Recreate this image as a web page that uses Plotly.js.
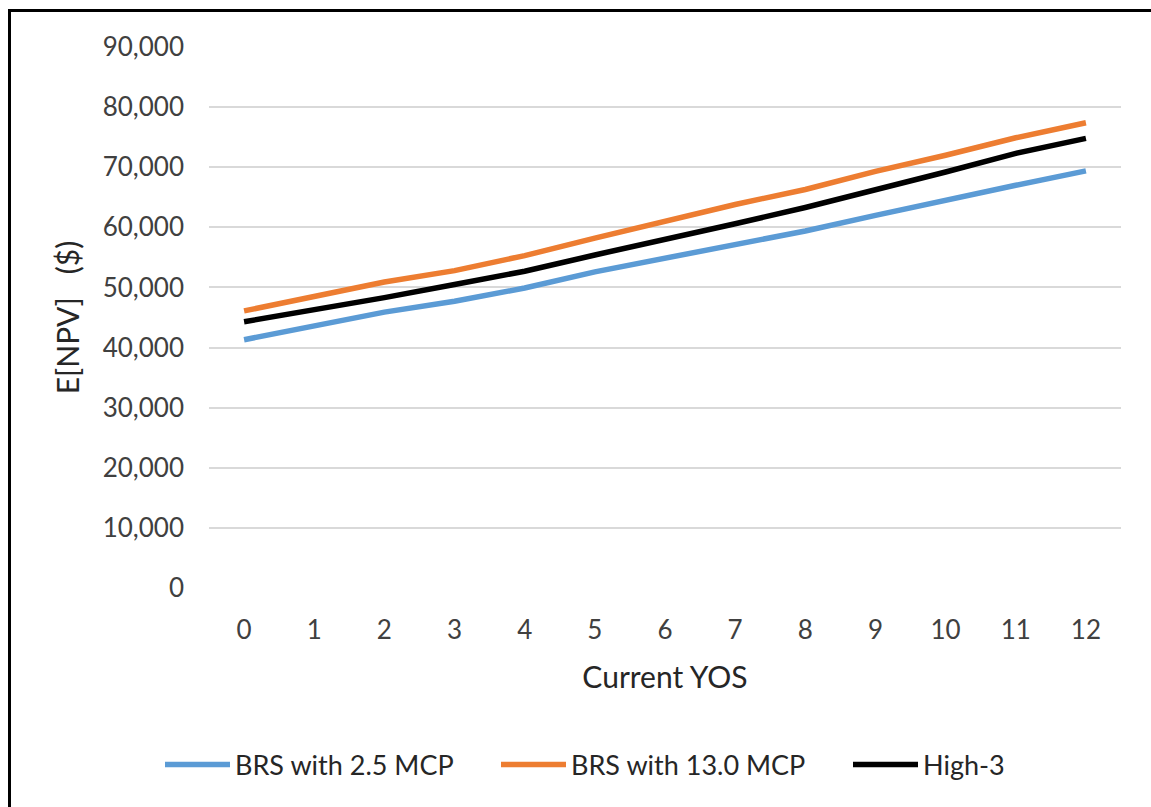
<!DOCTYPE html>
<html>
<head>
<meta charset="utf-8">
<script src="https://cdn.plot.ly/plotly-3.0.1.min.js"></script>
<style>
html,body{margin:0;padding:0;background:#fff;}
#frame{position:absolute;left:8px;top:9px;width:1160px;height:820px;border:3px solid #000;box-sizing:border-box;}
#chart{position:absolute;left:0;top:0;width:1151px;height:807px;}
</style>
</head>
<body>
<div id="chart"></div>
<div id="frame"></div>
<script>
const yos = [0,1,2,3,4,5,6,7,8,9,10,11,12];
const tickLabels = ["0","1","2","3","4","5","6","7","8","9","10","11","12"];
const brs25 = [41300,43600,45900,47700,49900,52600,54900,57200,59400,62000,64600,67000,69400];
const brs130 = [46100,48400,50900,52800,55300,58200,61000,63800,66300,69300,72000,74900,77400];
const high3 = [44300,46200,48300,50500,52700,55400,57900,60600,63300,66200,69200,72300,74800];
const seriesNames = ["BRS with 2.5 MCP","BRS with 13.0 MCP","High-3"];
const yTicks = [0,10000,20000,30000,40000,50000,60000,70000,80000,90000];
const yTickText = ["0","10,000","20,000","30,000","40,000","50,000","60,000","70,000","80,000","90,000"];

const font = "Lato, 'Open Sans', 'DejaVu Sans', sans-serif";
function tr(y, name, color, lg){
  return {x: yos, y: y, name: name, type: "scatter", mode: "lines", legend: lg,
    line: {color: color, width: 5.5, shape: "linear"}, hoverinfo: "skip"};
}
const data = [
  tr(brs25, seriesNames[0], "#5B9BD5", "legend"),
  tr(brs130, seriesNames[1], "#ED7D31", "legend2"),
  tr(high3, seriesNames[2], "#000000", "legend3")
];
const legFont = {family: font, size: 27, color: "#262626"};
function leg(px){
  return {orientation: "h", x: (px - 209) / 912, xanchor: "left", y: -0.327, yanchor: "middle",
    font: legFont, itemwidth: 65, bgcolor: "rgba(0,0,0,0)"};
}
const layout = {
  width: 1151, height: 807,
  margin: {l: 209, r: 30, t: 47, b: 219},
  paper_bgcolor: "#fff", plot_bgcolor: "#fff",
  font: {family: font, size: 26, color: "#404040"},
  showlegend: true,
  legend: leg(160),
  legend2: leg(496),
  legend3: leg(848),
  xaxis: {type: "linear", range: [-0.5, 12.5], tickvals: yos, ticktext: tickLabels,
    showgrid: false, zeroline: false, showline: false, ticks: "", ticklabelstandoff: 24,
    tickfont: {family: font, size: 26, color: "#404040"},
    title: {text: "Current YOS", font: {family: font, size: 30, color: "#262626"}, standoff: 22}},
  yaxis: {range: [0, 90000], tickvals: yTicks, ticktext: yTickText,
    showgrid: true, gridcolor: "#D9D9D9", gridwidth: 2, zeroline: false, showline: false,
    ticks: "", ticklabelstandoff: 24,
    tickfont: {family: font, size: 26, color: "#404040"},
    title: {text: "E[NPV]\u00A0\u00A0\u00A0($)", font: {family: font, size: 30, color: "#262626"}, standoff: 14}}
};
Plotly.newPlot("chart", data, layout, {staticPlot: true});
</script>
</body>
</html>
